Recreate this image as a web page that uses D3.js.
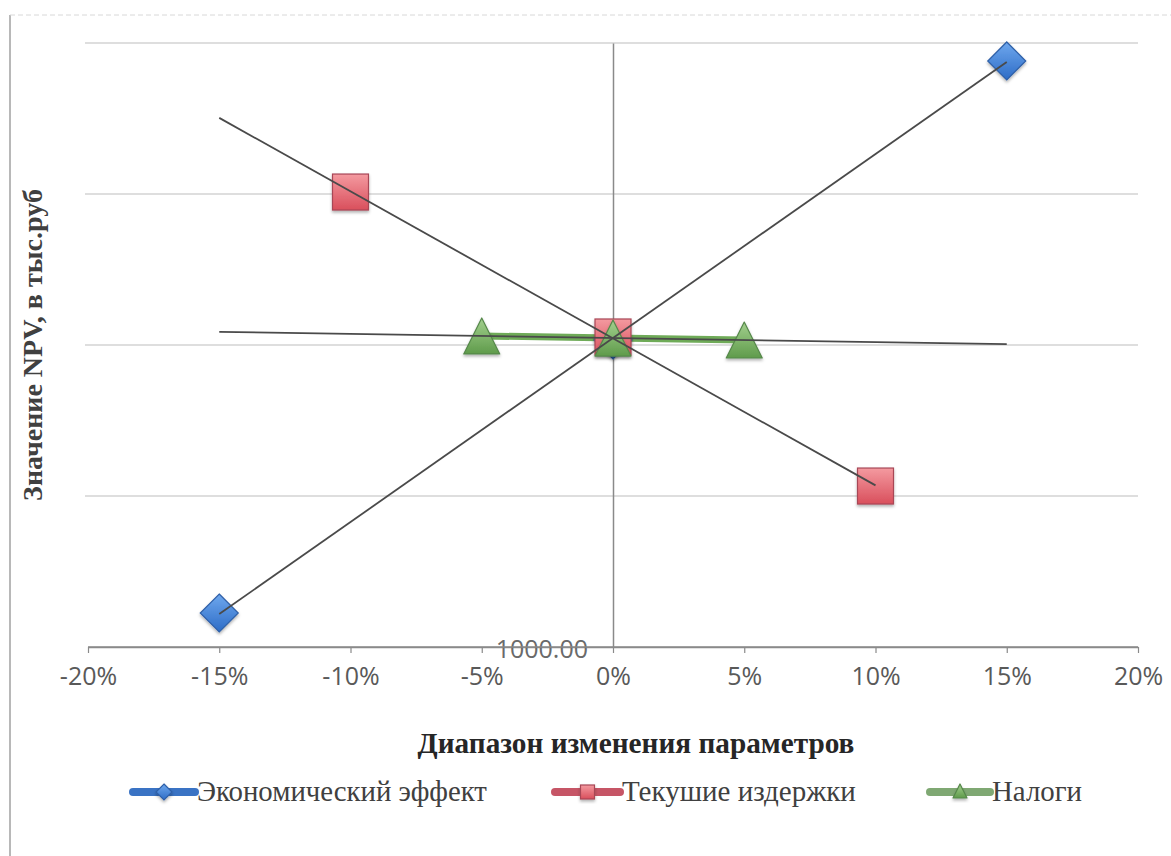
<!DOCTYPE html>
<html><head><meta charset="utf-8">
<script src="https://cdn.jsdelivr.net/npm/d3@7"></script>
<style>html,body{margin:0;padding:0;background:#fff;}svg{display:block;}</style>
</head><body>
<svg id="chart" width="1171" height="856"></svg>
<script>
// ---- data ----
const xTicks = [-0.20, -0.15, -0.10, -0.05, 0, 0.05, 0.10, 0.15, 0.20];
const xTickLabels = ["-20%", "-15%", "-10%", "-5%", "0%", "5%", "10%", "15%", "20%"];
const yGrid = [1000, 2000, 3000, 4000, 5000];
const yTickValues = [1000];
const yTickLabels = ["1000.00"];

const seriesNames = ["Экономический эффект", "Текушие издержки", "Налоги"];
const econX = [-0.15, 0, 0.15];
const econY = [1225, 3033, 4881];
const costX = [-0.10, 0, 0.10];
const costY = [4013, 3053, 2066];
const taxX = [-0.05, 0, 0.05];
const taxY = [3060, 3046, 3033];
// trendline spans (forecast range)
const econTrend = [-0.15, 0.15];
const costTrend = [-0.15, 0.10];
const taxTrend = [-0.15, 0.15];

const xTitle = "Диапазон изменения параметров";
const yTitle = "Значение NPV, в тыс.руб";

// ---- drawing ----
const svg = d3.select("#chart");
const x = d3.scaleLinear().domain([-0.2, 0.2]).range([88, 1138]);
const y = d3.scaleLinear().domain([1000, 5000]).range([647, 43]);

const defs = svg.append("defs");
function grad(id, c1, c2) {
  const g = defs.append("linearGradient").attr("id", id).attr("x1", 0).attr("y1", 0).attr("x2", 0).attr("y2", 1);
  g.append("stop").attr("offset", "0%").attr("stop-color", c1);
  g.append("stop").attr("offset", "100%").attr("stop-color", c2);
}
grad("gBlue", "#6fa8ee", "#2d6cc6");
grad("gRed", "#f49aa0", "#d94f5c");
grad("gGreen", "#a3d08e", "#5f9b4b");
const f = defs.append("filter").attr("id", "sh").attr("x", "-30%").attr("y", "-30%").attr("width", "160%").attr("height", "160%");
f.append("feDropShadow").attr("dx", 0).attr("dy", 2).attr("stdDeviation", 1.5).attr("flood-color", "#000").attr("flood-opacity", 0.3);

// chart frame
svg.append("line").attr("x1", 10).attr("x2", 10).attr("y1", 15).attr("y2", 856).attr("stroke", "#a0a0a0").attr("stroke-width", 1.5);
svg.append("line").attr("x1", 10).attr("x2", 1171).attr("y1", 15).attr("y2", 15).attr("stroke", "#d8d8d8").attr("stroke-width", 1).attr("stroke-dasharray", "5,3");

// gridlines
svg.append("g").selectAll("line").data(yGrid.filter(v => v !== 1000)).join("line")
  .attr("x1", 85).attr("x2", 1138).attr("y1", d => y(d)).attr("y2", d => y(d))
  .attr("stroke", "#d3d3d3").attr("stroke-width", 1.5);

// x axis
const xAxis = d3.axisBottom(x).tickValues(xTicks).tickFormat((d, i) => xTickLabels[i]).tickSize(6).tickSizeOuter(0).tickPadding(14);
const gx = svg.append("g").attr("transform", `translate(0,${y(1000)})`).call(xAxis);
gx.select(".domain").attr("stroke", "#8a8a8a").attr("stroke-width", 1.5);
gx.selectAll(".tick line").attr("stroke", "#8a8a8a").attr("stroke-width", 1.2);
gx.selectAll(".tick text").attr("fill", "#595959").attr("font-family", "'Open Sans', sans-serif").attr("font-size", 25);

// y axis at x=0
const yAxis = d3.axisLeft(y).tickValues(yTickValues).tickFormat((d, i) => yTickLabels[i]).tickSize(0).tickSizeOuter(0).tickPadding(25);
const gy = svg.append("g").attr("transform", `translate(${x(0)},0)`).call(yAxis);
gy.select(".domain").attr("stroke", "#8a8a8a").attr("stroke-width", 1.5);
gy.selectAll(".tick text").attr("fill", "#6a6a6a").attr("font-family", "'Open Sans', sans-serif").attr("font-size", 25).attr("dy", "0.4em");
// redraw x axis line over label (as in original)
svg.append("line").attr("x1", x(-0.2)).attr("x2", x(0.2)).attr("y1", y(1000)).attr("y2", y(1000)).attr("stroke", "#8a8a8a").attr("stroke-width", 1.5);

// thick green series line
const line = d3.line().x(d => x(d[0])).y(d => y(d[1]));
svg.append("path").datum(d3.zip(taxX, taxY)).attr("d", line)
  .attr("fill", "none").attr("stroke", "#6fab58").attr("stroke-width", 7).attr("stroke-linejoin", "round");

// markers
const S = 36;
function diamond(g, px, py, s) {
  const h = s / 2;
  g.append("path").attr("d", `M${px},${py - h}L${px + h},${py}L${px},${py + h}L${px - h},${py}Z`)
    .attr("fill", "url(#gBlue)").attr("stroke", "#2f60a8").attr("stroke-width", 1.2).attr("filter", "url(#sh)");
}
function square(g, px, py, s) {
  g.append("rect").attr("x", px - s / 2).attr("y", py - s / 2).attr("width", s).attr("height", s)
    .attr("fill", "url(#gRed)").attr("stroke", "#a84656").attr("stroke-width", 1.2).attr("filter", "url(#sh)");
}
function triangle(g, px, py, s) {
  const h = s / 2;
  g.append("path").attr("d", `M${px},${py - h}L${px + h},${py + h}L${px - h},${py + h}Z`)
    .attr("fill", "url(#gGreen)").attr("stroke", "#55884a").attr("stroke-width", 1.2).attr("stroke-linejoin", "round").attr("filter", "url(#sh)");
}
const mg = svg.append("g");
econX.forEach((v, i) => diamond(mg, x(v), y(econY[i]), S + 2));
costX.forEach((v, i) => square(mg, x(v), y(costY[i]), S));
taxX.forEach((v, i) => triangle(mg, x(v), y(taxY[i]), S));

// linear trendlines
function trend(xs, ys, span) {
  const mx = d3.mean(xs), my = d3.mean(ys);
  const b = d3.sum(xs, (v, i) => (v - mx) * (ys[i] - my)) / d3.sum(xs, v => (v - mx) * (v - mx));
  const a = my - b * mx;
  return span.map(v => [v, a + b * v]);
}
[[econX, econY, econTrend], [costX, costY, costTrend], [taxX, taxY, taxTrend]].forEach(([xs, ys, sp]) => {
  svg.append("path").datum(trend(xs, ys, sp)).attr("d", line)
    .attr("fill", "none").attr("stroke", "#4a4a4a").attr("stroke-width", 1.8);
});

// titles
function fit(t, w) {
  const n = t.node(); const cur = +t.attr("font-size");
  const len = n.getComputedTextLength();
  t.attr("font-size", cur * w / len);
}
const xt = svg.append("text").attr("x", 636).attr("y", 753).attr("text-anchor", "middle")
  .attr("font-family", "'Liberation Serif', serif").attr("font-weight", "bold").attr("font-size", 24)
  .attr("fill", "#262626").text(xTitle);
fit(xt, 437);
const yt = svg.append("text").attr("transform", "translate(42,345) rotate(-90)").attr("text-anchor", "middle")
  .attr("font-family", "'Liberation Serif', serif").attr("font-weight", "bold").attr("font-size", 20)
  .attr("fill", "#404040").text(yTitle);
fit(yt, 312);

// legend
const legend = [
  {name: seriesNames[0], x0: 133, x1: 195, color: "#3a73c4", mk: "d"},
  {name: seriesNames[1], x0: 555, x1: 620, color: "#c65566", mk: "s"},
  {name: seriesNames[2], x0: 930, x1: 990, color: "#7fa873", mk: "t"}
];
const lw = [290, 234, 90];
const lg = svg.append("g");
legend.forEach((d, i) => {
  const cy = 792;
  lg.append("line").attr("x1", d.x0).attr("x2", d.x1).attr("y1", cy).attr("y2", cy)
    .attr("stroke", d.color).attr("stroke-width", 8).attr("stroke-linecap", "round");
  const cx = (d.x0 + d.x1) / 2;
  if (d.mk === "d") diamond(lg, cx, cy, 16);
  if (d.mk === "s") square(lg, cx, cy, 14);
  if (d.mk === "t") triangle(lg, cx, cy - 1, 14);
  const t = lg.append("text").attr("x", d.x1 + 2).attr("y", cy + 9).attr("font-family", "'Liberation Serif', serif")
    .attr("font-size", 27).attr("fill", "#404040").text(d.name);
  fit(t, lw[i]);
});
</script>
</body></html>
